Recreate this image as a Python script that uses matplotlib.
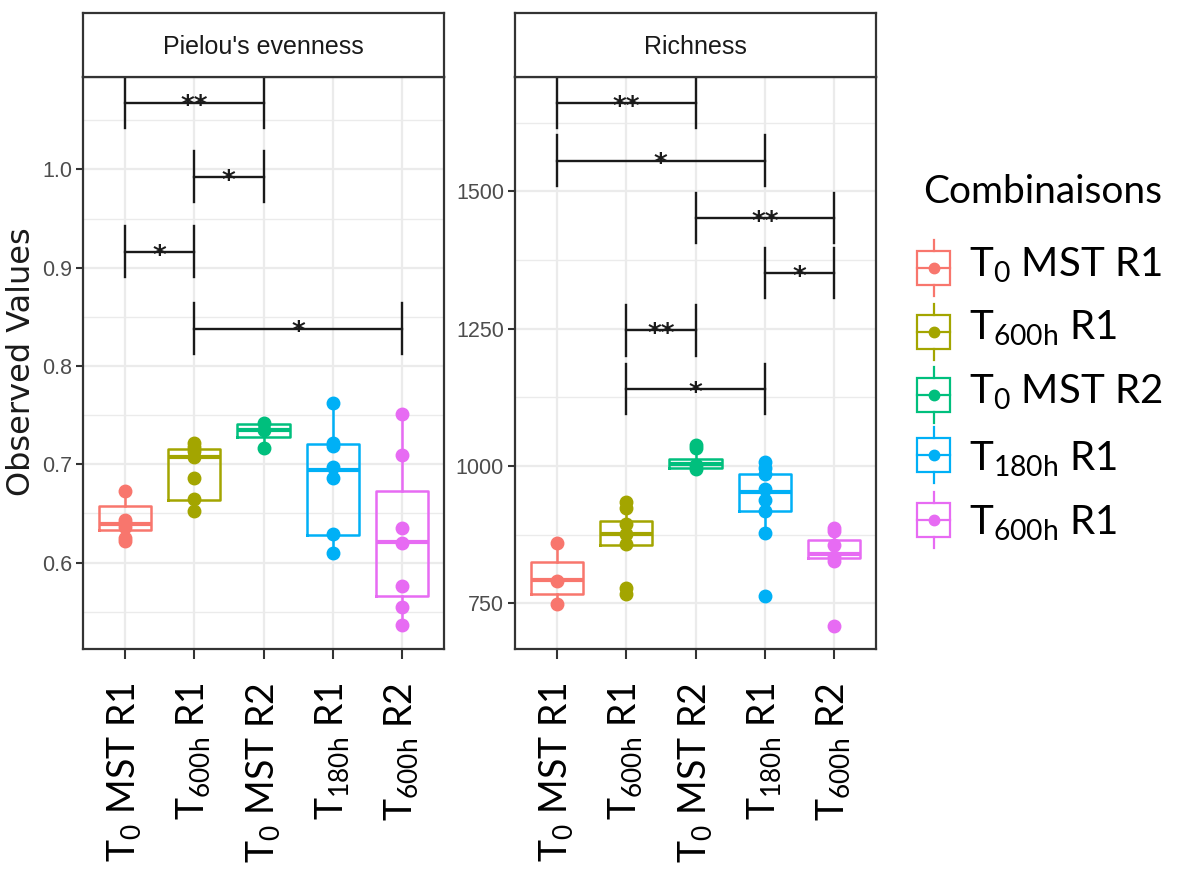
import matplotlib
matplotlib.use("Agg")
import matplotlib.pyplot as plt
from matplotlib.patches import Rectangle
from matplotlib.ticker import MultipleLocator, FixedLocator

# ---------------- data ----------------
categories = ["T0 MST R1", "T600h R1", "T0 MST R2", "T180h R1", "T600h R2"]
tick_labels = [r"T$_{\mathregular{0}}$ MST R1", r"T$_{\mathregular{600h}}$ R1",
               r"T$_{\mathregular{0}}$ MST R2", r"T$_{\mathregular{180h}}$ R1",
               r"T$_{\mathregular{600h}}$ R2"]
legend_labels = [r"T$_{\mathregular{0}}$ MST R1", r"T$_{\mathregular{600h}}$ R1",
                 r"T$_{\mathregular{0}}$ MST R2", r"T$_{\mathregular{180h}}$ R1",
                 r"T$_{\mathregular{600h}}$ R1"]
colors = ["#F8766D", "#A3A500", "#00BF7D", "#00B0F6", "#E76BF3"]
legend_title = "Combinaisons"
facet_titles = ["Pielou's evenness", "Richness"]
y_label = "Observed Values"

# Pielou's evenness
pielou_points = [
    [0.673, 0.643, 0.640, 0.636, 0.625, 0.622],
    [0.722, 0.718, 0.713, 0.707, 0.686, 0.665, 0.652],
    [0.742, 0.735, 0.717],
    [0.762, 0.722, 0.719, 0.697, 0.686, 0.629, 0.610],
    [0.751, 0.709, 0.635, 0.620, 0.576, 0.555, 0.536],
]
pielou_q1 = [0.633, 0.664, 0.728, 0.628, 0.566]
pielou_med = [0.639, 0.707, 0.735, 0.694, 0.621]
pielou_q3 = [0.657, 0.715, 0.741, 0.721, 0.673]
pielou_lo = [0.622, 0.652, 0.717, 0.610, 0.536]
pielou_hi = [0.673, 0.722, 0.742, 0.762, 0.751]
pielou_ticks = [0.6, 0.7, 0.8, 0.9, 1.0]
pielou_tick_labels = ["0.6", "0.7", "0.8", "0.9", "1.0"]
pielou_sig = [(1, 3, 1.068, "**"), (2, 3, 0.9925, "*"), (1, 2, 0.916, "*"), (2, 5, 0.838, "*")]

# Richness
rich_points = [
    [860, 790, 748],
    [934, 924, 895, 876, 858, 778, 767],
    [1038, 1033, 1001, 994],
    [1008, 997, 985, 958, 939, 918, 878, 763],
    [888, 881, 857, 835, 828, 709],
]
rich_q1 = [768, 857, 997, 918, 833]
rich_med = [792, 877, 1003, 953, 839]
rich_q3 = [825, 900, 1012, 985, 865]
rich_lo = [748, 857, 994, 878, 828]
rich_hi = [860, 934, 1038, 1008, 888]
rich_ticks = [750, 1000, 1250, 1500]
rich_tick_labels = ["750", "1000", "1250", "1500"]
rich_sig = [(1, 3, 1661, "**"), (1, 4, 1556, "*"), (3, 5, 1451, "**"),
            (4, 5, 1351, "*"), (2, 3, 1247, "**"), (2, 4, 1140, "*")]

# ---------------- figure ----------------
W, H = 1181, 876
fig = plt.figure(figsize=(W / 100, H / 100), dpi=100)
fig.patch.set_facecolor("white")

NARROW = ["Liberation Sans Narrow", "Liberation Sans", "DejaVu Sans"]
LABELF = ["Lato", "DejaVu Sans"]
DARK = "#333333"


def px_rect(x0, y0, x1, y1):
    return [x0 / W, 1 - y1 / H, (x1 - x0) / W, (y1 - y0) / H]


panels = [
    dict(rect=px_rect(83, 77, 444, 649), ylim=(0.512, 1.094), minor=0.05,
         points=pielou_points, q1=pielou_q1, med=pielou_med, q3=pielou_q3,
         lo=pielou_lo, hi=pielou_hi, ticks=pielou_ticks, tlabels=pielou_tick_labels,
         sig=pielou_sig, half=0.026, title=facet_titles[0]),
    dict(rect=px_rect(515, 77, 876, 649), ylim=(667, 1708), minor=125,
         points=rich_points, q1=rich_q1, med=rich_med, q3=rich_q3,
         lo=rich_lo, hi=rich_hi, ticks=rich_ticks, tlabels=rich_tick_labels,
         sig=rich_sig, half=46, title=facet_titles[1]),
]

positions = list(range(1, len(categories) + 1))

for p in panels:
    ax = fig.add_axes(p["rect"])
    ax.set_facecolor("white")
    ax.set_xlim(0.4, 5.6)
    ax.set_ylim(*p["ylim"])
    ax.yaxis.set_major_locator(FixedLocator(p["ticks"]))
    ax.yaxis.set_minor_locator(MultipleLocator(p["minor"]))
    ax.set_xticks(positions)
    ax.grid(True, which="major", color="#EBEBEB", lw=1.6, zorder=0)
    ax.grid(True, which="minor", axis="y", color="#EBEBEB", lw=1.0, zorder=0)
    ax.set_axisbelow(True)
    for s in ax.spines.values():
        s.set_color(DARK)
        s.set_linewidth(1.6)
    ax.tick_params(axis="y", which="major", length=5, width=1.5, color=DARK,
                   labelsize=15.5, labelcolor="#4D4D4D", pad=3)
    ax.tick_params(axis="y", which="minor", length=0)
    ax.tick_params(axis="x", which="major", length=7, width=1.5, color=DARK, pad=17)
    ax.set_yticklabels(p["tlabels"], family=NARROW)
    ax.set_xticklabels(tick_labels, rotation=90, fontsize=27, family=LABELF,
                       color="black", ha="center", va="top")

    for i in range(len(categories)):
        c = colors[i]
        st = dict(med=p["med"][i], q1=p["q1"][i], q3=p["q3"][i],
                  whislo=p["lo"][i], whishi=p["hi"][i], fliers=[])
        ax.bxp([st], positions=[positions[i]], widths=0.75, showfliers=False,
               patch_artist=False, manage_ticks=False,
               boxprops=dict(color=c, lw=1.8),
               whiskerprops=dict(color=c, lw=1.8),
               capprops=dict(lw=0),
               medianprops=dict(color=c, lw=3.0))
        ax.plot([positions[i]] * len(p["points"][i]), p["points"][i], "o",
                color=c, ms=9, mec=c, zorder=4)

    # significance brackets
    for (a, b, y, lab) in p["sig"]:
        ax.plot([a, b], [y, y], color="#1A1A1A", lw=1.7, zorder=5)
        for xx in (a, b):
            ax.plot([xx, xx], [y - p["half"], y + p["half"]], color="#1A1A1A",
                    lw=1.7, zorder=5)
        ax.annotate(lab, xy=((a + b) / 2, y), xytext=(0, -8.5),
                    textcoords="offset points", ha="center", va="baseline",
                    fontsize=19, fontweight="bold", color="#1A1A1A", zorder=6)

    # strip
    r = p["rect"]
    sax = fig.add_axes([r[0], 1 - 77 / H, r[2], 64 / H])
    sax.set_facecolor("white")
    sax.set_xticks([])
    sax.set_yticks([])
    for s in sax.spines.values():
        s.set_color(DARK)
        s.set_linewidth(1.6)
    sax.text(0.5, 0.47, p["title"], ha="center", va="center", fontsize=18,
             family=NARROW, color="#1A1A1A", transform=sax.transAxes)

# y label
fig.text(22 / W, 1 - 362 / H, y_label, rotation=90, ha="center", va="center",
         fontsize=23, family="DejaVu Sans", color="#1A1A1A")

# legend drawn in pixel space
lax = fig.add_axes([0, 0, 1, 1], zorder=-5)
lax.set_xlim(0, W)
lax.set_ylim(H, 0)
lax.axis("off")
lax.text(923, 203, legend_title, fontsize=28, family=LABELF, ha="left",
         va="baseline", color="black")
key_y = [268, 332, 395, 455, 520]
base_y = [276, 339, 403, 470, 534]
for i, c in enumerate(colors):
    yc = key_y[i]
    lax.add_patch(Rectangle((917, yc - 17), 33, 34, fill=False, ec=c, lw=1.6))
    lax.plot([933.5, 933.5], [yc - 28, yc - 17], color=c, lw=1.6)
    lax.plot([933.5, 933.5], [yc + 17, yc + 28], color=c, lw=1.6)
    lax.plot([917, 950], [yc, yc], color=c, lw=1.6)
    lax.plot([933.5], [yc], "o", color=c, ms=7.5)
    lax.text(969, base_y[i], legend_labels[i], fontsize=29, family=LABELF,
             ha="left", va="baseline", color="black")

fig.savefig("out.png", dpi=100)
